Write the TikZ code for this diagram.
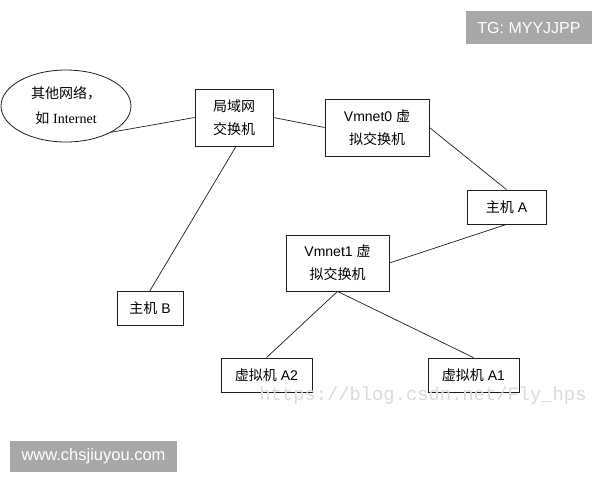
\documentclass[tikz,border=0pt]{standalone}
\usepackage{fontspec}
\setmainfont{Liberation Sans}
\newfontfamily\cjkfont{Noto Sans CJK SC}
\newfontfamily\netserif{Liberation Serif}
\newfontfamily\wmmono{Liberation Mono}
\newcommand{\zhtxt}[1]{{\cjkfont #1}}
\usetikzlibrary{shapes.geometric}
\definecolor{tagGray}{HTML}{A8A8A8}
\definecolor{wmGray}{HTML}{DADADA}
\definecolor{inkC}{HTML}{1E1E1E}
\begin{document}
\begin{tikzpicture}[x=1pt,y=-1pt,
  box/.style={draw=inkC, line width=0.8pt, rectangle, inner sep=0pt, align=center,
    font=\fontsize{14}{23}\selectfont},
  cloud/.style={draw=inkC, line width=0.8pt, ellipse, inner sep=0pt, align=center,
    font=\fontsize{14}{25}\selectfont},
  link/.style={draw=inkC, line width=0.7pt},
  tag/.style={fill=tagGray, text=white, inner sep=0pt}]
\useasboundingbox (0,0) rectangle (600,480);
\fill[white] (0,0) rectangle (600,480);

\node[cloud, minimum width=130pt, minimum height=72pt] (net) at (66,106)
  {\zhtxt{其他网络，}\\\zhtxt{如} {\netserif Internet}};
\node[box, minimum width=78pt, minimum height=57pt] (lan) at (234,117.5)
  {\zhtxt{局域网}\\\zhtxt{交换机}};
\node[box, minimum width=104pt, minimum height=57pt] (vm0) at (377,127.5)
  {Vmnet0 \zhtxt{虚}\\\zhtxt{拟交换机}};
\node[box, minimum width=79pt, minimum height=34pt] (hostA) at (506.5,207)
  {\zhtxt{主机} A};
\node[box, minimum width=103pt, minimum height=56pt] (vm1) at (337.5,263)
  {Vmnet1 \zhtxt{虚}\\\zhtxt{拟交换机}};
\node[box, minimum width=66pt, minimum height=34pt] (hostB) at (150,308)
  {\zhtxt{主机} B};
\node[box, minimum width=91pt, minimum height=34pt] (a2) at (266.5,375)
  {\zhtxt{虚拟机} A2};
\node[box, minimum width=91pt, minimum height=34pt] (a1) at (473.5,375)
  {\zhtxt{虚拟机} A1};

\draw[link] (net.-30) -- (lan.west);
\draw[link] (lan.east) -- (vm0.west);
\draw[link] ([xshift=2pt]lan.south) -- (hostB.north);
\draw[link] (vm0.east) -- (hostA.north);
\draw[link] (hostA.south) -- (vm1.east);
\draw[link] (vm1.south) -- (a2.north);
\draw[link] (vm1.south) -- (a1.north);

\node[text=wmGray, inner sep=0pt, font=\wmmono\fontsize{18.8}{19}\selectfont] (wm) at (423,396)
  {https://blog.csdn.net/Fly\_hps};

\node[tag, minimum width=126pt, minimum height=33pt, font=\fontsize{16}{16}\selectfont] (tg) at (529,27.5)
  {TG: MYYJJPP};
\node[tag, minimum width=167pt, minimum height=31pt, font=\fontsize{16.5}{16.5}\selectfont] (www) at (93.5,456.5)
  {www.chsjiuyou.com};
\end{tikzpicture}
\end{document}
